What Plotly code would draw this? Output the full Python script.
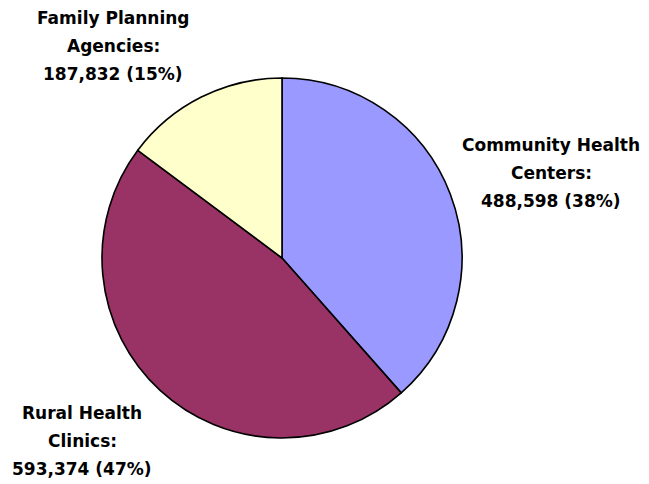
import plotly.graph_objects as go

# Clinic categories and patient counts
categories = ["Community Health Centers", "Rural Health Clinics", "Family Planning Agencies"]
label_lines = [["Community Health", "Centers:"], ["Rural Health", "Clinics:"], ["Family Planning", "Agencies:"]]
values = [488598, 593374, 187832]
colors = ["#9999FF", "#993366", "#FFFFCC"]

W, H = 649, 484
total = sum(values)

fig = go.Figure()
fig.add_trace(go.Pie(
    labels=categories,
    values=values,
    sort=False,
    direction="clockwise",
    rotation=0,
    marker=dict(colors=colors, line=dict(color="#000000", width=1.6)),
    textinfo="none",
    hoverinfo="label+value+percent",
    showlegend=False,
    domain=dict(x=[102 / W, 462 / W], y=[1 - 438 / H, 1 - 78 / H]),
))

# Outside label blocks: centre x and first-line y (pixels), line step
label_pos = [(551, 145), (82, 413), (113, 18)]
line_step = 28

annotations = []
for cat_lines, v, (cx, cy) in zip(label_lines, values, label_pos):
    pct = round(100 * v / total)
    lines = cat_lines + [f"{v:,} ({pct}%)"]
    for i, txt in enumerate(lines):
        annotations.append(dict(
            x=cx / W, y=1 - (cy + i * line_step) / H,
            xref="paper", yref="paper",
            text=f"<b>{txt}</b>", showarrow=False,
            xanchor="center", yanchor="middle",
            font=dict(family="DejaVu Sans, sans-serif", size=17, color="#000000"),
        ))

fig.update_layout(
    width=W, height=H,
    margin=dict(l=0, r=0, t=0, b=0),
    paper_bgcolor="#FFFFFF",
    plot_bgcolor="#FFFFFF",
    annotations=annotations,
)

fig.write_html("out.html")
